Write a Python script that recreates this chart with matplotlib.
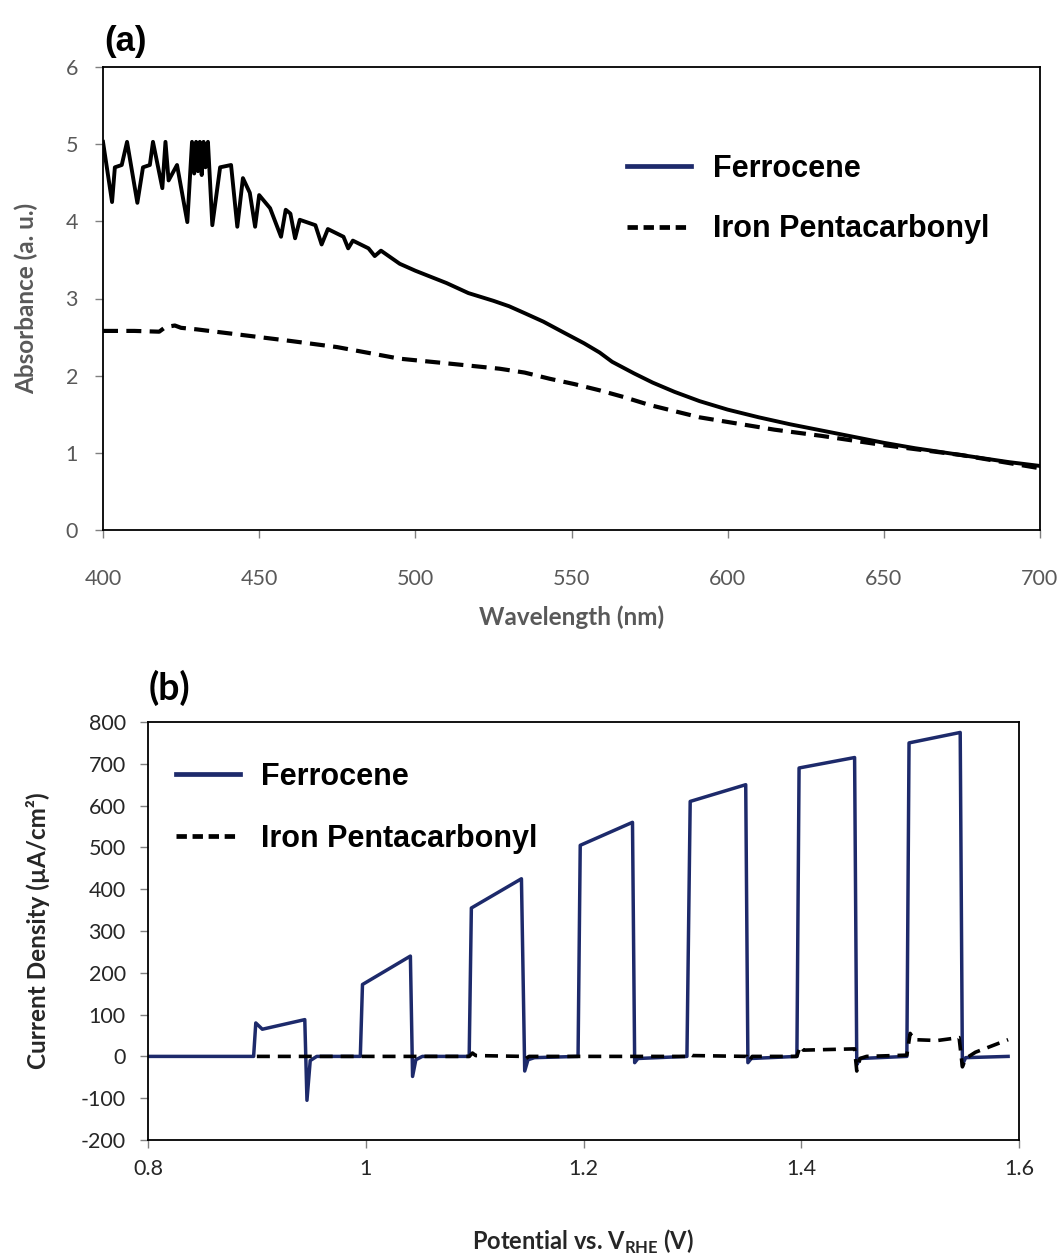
import matplotlib
matplotlib.use("Agg")
import matplotlib.pyplot as plt
from matplotlib.lines import Line2D

plt.rcParams["axes.unicode_minus"] = False

# ---------------- (a) UV-Vis absorbance ----------------
wl_ferrocene = [400, 402.9, 403.8, 406, 407.7, 411, 412.8, 415, 416, 419, 420, 421,
                423.7, 427, 428.5, 429.2, 429.8, 430.4, 431, 431.6, 432.2, 432.8,
                433.6, 435, 437.5, 441, 443, 444.8, 447, 448.7, 450, 453.5, 457,
                458.5, 460, 461.5, 463, 468, 470, 472, 477, 478.5, 480, 485, 487,
                489, 495, 500, 510, 517, 525, 530, 535, 541, 547, 554, 559, 563,
                570, 576, 583, 591, 600, 610, 620, 630, 640, 650, 660, 670, 680,
                690, 700]
abs_ferrocene = [5.03, 4.25, 4.70, 4.73, 5.03, 4.24, 4.70, 4.73, 5.03, 4.43, 5.03, 4.53,
                 4.73, 3.99, 5.03, 4.62, 5.03, 4.65, 5.03, 4.60, 5.03, 4.70,
                 5.03, 3.95, 4.70, 4.73, 3.93, 4.56, 4.37, 3.93, 4.34, 4.17, 3.80,
                 4.15, 4.10, 3.78, 4.02, 3.95, 3.70, 3.90, 3.80, 3.65, 3.75, 3.65, 3.55,
                 3.62, 3.45, 3.36, 3.20, 3.07, 2.97, 2.90, 2.81, 2.70, 2.57, 2.42, 2.30, 2.18,
                 2.03, 1.91, 1.79, 1.67, 1.56, 1.46, 1.37, 1.29, 1.21, 1.13, 1.06, 1.00, 0.94,
                 0.88, 0.83]

wl_ironpc = [400, 410, 418, 420, 423, 425, 430, 440, 450, 460, 475, 495, 510, 527,
             535, 543, 551, 559, 567, 575, 583, 591, 600, 615, 630, 650, 675, 700]
abs_ironpc = [2.58, 2.58, 2.57, 2.63, 2.65, 2.62, 2.60, 2.55, 2.50, 2.45, 2.37, 2.22,
              2.16, 2.09, 2.04, 1.96, 1.89, 1.81, 1.72, 1.62, 1.54, 1.46, 1.40, 1.30,
              1.22, 1.10, 0.97, 0.80]

abs_yticks = [0, 1, 2, 3, 4, 5, 6]
wl_xticks = [400, 450, 500, 550, 600, 650, 700]

# ---------------- (b) chopped-light photocurrent ----------------
v_ferrocene = [0.80, 0.897, 0.899, 0.905, 0.944, 0.946, 0.949, 0.955,
               0.995, 0.997, 1.041, 1.043, 1.046, 1.052,
               1.095, 1.097, 1.143, 1.146, 1.149, 1.155,
               1.195, 1.197, 1.245, 1.247, 1.250,
               1.295, 1.298, 1.349, 1.351, 1.354,
               1.396, 1.398, 1.449, 1.451, 1.454,
               1.497, 1.499, 1.546, 1.548, 1.551, 1.590]
j_ferrocene = [0, 0, 80, 65, 88, -105, -10, 0,
               0, 172, 240, -48, -8, 0,
               0, 355, 425, -35, -8, -3,
               0, 505, 560, -15, -5,
               0, 610, 650, -15, -5,
               0, 690, 715, -20, -5,
               0, 750, 775, -20, -3, 0]

v_ironpc = [0.90, 1.095, 1.098, 1.101, 1.145, 1.147, 1.150, 1.295, 1.298, 1.300,
            1.350, 1.352, 1.355, 1.396, 1.399, 1.402, 1.449, 1.451, 1.454, 1.460,
            1.497, 1.500, 1.504, 1.525, 1.545, 1.548, 1.551, 1.560, 1.575, 1.590]
j_ironpc = [0, 0, 8, 2, 0, -5, 0, 0, 5, 2,
            0, -12, 0, 0, 25, 15, 18, -35, -5, 0,
            3, 55, 40, 38, 45, -25, -5, 10, 25, 40]

j_yticks = [-200, -100, 0, 100, 200, 300, 400, 500, 600, 700, 800]
v_xticks = [0.8, 1.0, 1.2, 1.4, 1.6]

NAVY = "#1d2a6b"
GREY = "#595959"
DARK = "#262626"
LEGEND_FONT = {"family": "Liberation Sans", "weight": "bold", "size": 22}

fig = plt.figure(figsize=(10.64, 12.58), dpi=100)

# ---- panel (a)
ax1 = fig.add_axes([103/1064, 1 - 530/1258, 937/1064, 463/1258])
ax1.plot(wl_ferrocene, abs_ferrocene, color="black", lw=2.8, solid_joinstyle="round")
ax1.plot(wl_ironpc, abs_ironpc, color="black", lw=3.0, dashes=(3.6, 2.0))
ax1.set_xlim(400, 700)
ax1.set_ylim(0, 6)
ax1.set_xticks(wl_xticks)
ax1.set_yticks(abs_yticks)
ax1.tick_params(direction="out", length=6, width=1, color="#808080",
                labelsize=15.5, labelcolor=GREY)
ax1.tick_params(axis="y", pad=12)
ax1.tick_params(axis="x", pad=22)
for lab in ax1.get_xticklabels() + ax1.get_yticklabels():
    lab.set_fontfamily("Lato")
for s in ax1.spines.values():
    s.set_linewidth(1.3)
    s.set_color("black")
ax1.set_xlabel("Wavelength (nm)", fontfamily="Lato", fontweight="bold",
               fontsize=17.5, color=GREY, labelpad=12)
ax1.set_ylabel("Absorbance (a. u.)", fontfamily="Lato", fontweight="bold",
               fontsize=17.5, color=GREY, labelpad=20)
handles_a = [Line2D([], [], color=NAVY, lw=3.4),
             Line2D([], [], color="black", lw=3.4, dashes=(2.2, 1.2))]
ax1.legend(handles_a, ["Ferrocene", "Iron Pentacarbonyl"],
           loc="upper left", bbox_to_anchor=(0.53, 0.872), frameon=False,
           prop=LEGEND_FONT, handlelength=2.1, handletextpad=0.7, labelspacing=1.0)
fig.text(104/1064, 1 - 42/1258, "(a)", fontfamily=["Liberation Sans Narrow", "Liberation Sans"],
         fontweight="bold", fontsize=25, va="center", ha="left")

# ---- panel (b)
ax2 = fig.add_axes([148/1064, 1 - 1140/1258, 871/1064, 418/1258])
ax2.plot(v_ferrocene, j_ferrocene, color=NAVY, lw=2.5)
ax2.plot(v_ironpc, j_ironpc, color="black", lw=2.6, dashes=(3.6, 2.2))
ax2.set_xlim(0.8, 1.6)
ax2.set_ylim(-200, 800)
ax2.set_xticks(v_xticks)
ax2.set_xticklabels([f"{v:g}" for v in v_xticks])
ax2.set_yticks(j_yticks)
ax2.tick_params(direction="out", length=6, width=1, color="#808080",
                labelsize=15.5, labelcolor=DARK)
ax2.tick_params(axis="y", pad=10)
ax2.tick_params(axis="x", pad=8)
for lab in ax2.get_xticklabels() + ax2.get_yticklabels():
    lab.set_fontfamily("Lato")
for s in ax2.spines.values():
    s.set_linewidth(1.3)
    s.set_color("black")
fig.text((148 + 871 / 2) / 1064, 1 - 1242/1258, r"Potential vs. V$_{\mathregular{RHE}}$ (V)",
         fontfamily="Lato", fontweight="bold", fontsize=17, color=DARK,
         ha="center", va="center")
ax2.set_ylabel("Current Density (µA/cm²)", fontfamily="Lato", fontweight="bold",
               fontsize=17.5, color=DARK, labelpad=22)
handles_b = [Line2D([], [], color=NAVY, lw=3.4),
             Line2D([], [], color="black", lw=3.4, dashes=(2.2, 1.2))]
ax2.legend(handles_b, ["Ferrocene", "Iron Pentacarbonyl"],
           loc="upper left", bbox_to_anchor=(0.0, 0.97), frameon=False,
           prop=LEGEND_FONT, handlelength=2.1, handletextpad=0.7, labelspacing=1.05)
fig.text(149/1064, 1 - 688/1258, "(b)", fontfamily="Lato",
         fontweight="bold", fontsize=27, va="center", ha="left")

fig.savefig("out.png", dpi=100)
